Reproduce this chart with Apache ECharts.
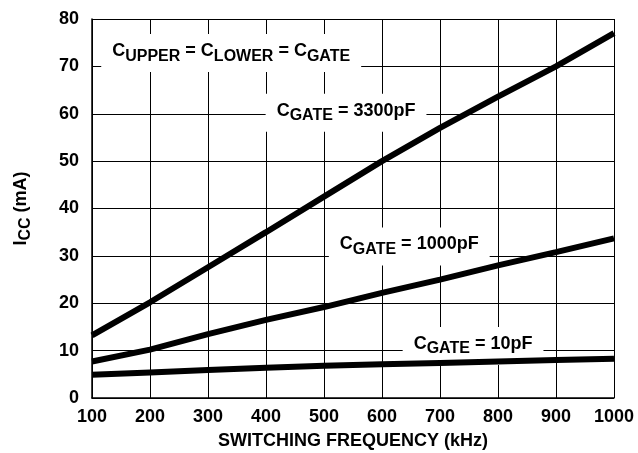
<!DOCTYPE html>
<html>
<head>
<meta charset="utf-8">
<script src="https://cdn.jsdelivr.net/npm/echarts@6/dist/echarts.min.js"></script>
<style>html,body{margin:0;padding:0;background:#fff}#c{width:638px;height:453px}</style>
</head>
<body>
<div id="c"></div>
<script>
const freq = [100, 200, 300, 400, 500, 600, 700, 800, 900, 1000];
const icc3300 = [13.2, 20.2, 27.6, 35.0, 42.5, 50.0, 57.0, 63.6, 70.0, 77.0];
const icc1000 = [7.7, 10.2, 13.5, 16.5, 19.2, 22.2, 25.0, 28.0, 30.8, 33.7];
const icc10 = [4.9, 5.4, 5.9, 6.4, 6.8, 7.1, 7.4, 7.7, 8.0, 8.3];
const xTicks = {min: 100, max: 1000, step: 100};
const yTicks = {min: 0, max: 80, step: 10};
const annotations = [
  {coord: [340, 72.8], parts: [['C','UPPER'],' = ',['C','LOWER'],' = ',['C','GATE']]},
  {coord: [538, 60.2], parts: [['C','GATE'],' = 3300pF']},
  {coord: [647, 32.0], parts: [['C','GATE'],' = 1000pF']},
  {coord: [757, 11.0], parts: [['C','GATE'],' = 10pF']}
];

const FONT = '"Liberation Sans", Arial, sans-serif';
function richStr(parts){
  return parts.map(p => Array.isArray(p) ? '{m|' + p[0] + '}{s|' + p[1] + '}' : '{m|' + p + '}').join('');
}
const richStyles = {
  m: {fontSize: 18, fontWeight: 'bold', fontFamily: FONT, color: '#000', lineHeight: 22, verticalAlign: 'top'},
  s: {fontSize: 16, fontWeight: 'bold', fontFamily: FONT, color: '#000', lineHeight: 22, padding: [6,0,0,0], verticalAlign: 'top'}
};

const chart = echarts.init(document.getElementById('c'), null, {renderer: 'canvas'});
const lineSeries = (data) => ({
  type: 'line', data: freq.map((f, i) => [f, data[i]]), symbol: 'none', smooth: false,
  lineStyle: {color: '#000', width: 6}, z: 3, silent: true
});
const s0 = lineSeries(icc3300);
s0.markPoint = {
  symbol: 'rect', symbolSize: 0, silent: true, z: 1,
  data: annotations.map(a => ({
    coord: a.coord,
    label: {
      show: true, position: 'inside', formatter: richStr(a.parts), rich: richStyles,
      backgroundColor: '#fff', padding: [8, 11, 8, 11]
    }
  }))
};
chart.setOption({
  animation: false,
  backgroundColor: '#fff',
  grid: {left: 92, right: 24, top: 19, bottom: 55, containLabel: false, outerBoundsMode: 'none'},
  xAxis: {
    type: 'value', min: xTicks.min, max: xTicks.max, interval: xTicks.step,
    name: 'SWITCHING FREQUENCY (kHz)', nameLocation: 'middle', nameGap: 34,
    nameTextStyle: {fontSize: 18, fontWeight: 'bold', fontFamily: FONT, color: '#000'},
    axisLine: {lineStyle: {color: '#000', width: 1.5}},
    axisTick: {show: false},
    axisLabel: {fontSize: 18, fontWeight: 'bold', fontFamily: FONT, color: '#000', margin: 10, formatter: v => String(v)},
    splitLine: {show: true, lineStyle: {color: '#000', width: 1}}
  },
  yAxis: {
    type: 'value', min: yTicks.min, max: yTicks.max, interval: yTicks.step,
    name: '{a|I}{b|CC}{a| (mA)}', nameLocation: 'middle', nameGap: 58,
    nameTextStyle: {rich: {
      a: {fontSize: 18, fontWeight: 'bold', fontFamily: FONT, color: '#000', lineHeight: 22, verticalAlign: 'top'},
      b: {fontSize: 16, fontWeight: 'bold', fontFamily: FONT, color: '#000', lineHeight: 22, padding: [6,0,0,0], verticalAlign: 'top'}
    }},
    axisLine: {show: true, lineStyle: {color: '#000', width: 1.5}},
    axisTick: {show: false},
    axisLabel: {fontSize: 18, fontWeight: 'bold', fontFamily: FONT, color: '#000', margin: 13},
    splitLine: {show: true, lineStyle: {color: '#000', width: 1}}
  },
  series: [s0, lineSeries(icc1000), lineSeries(icc10)]
});
</script>
</body>
</html>
